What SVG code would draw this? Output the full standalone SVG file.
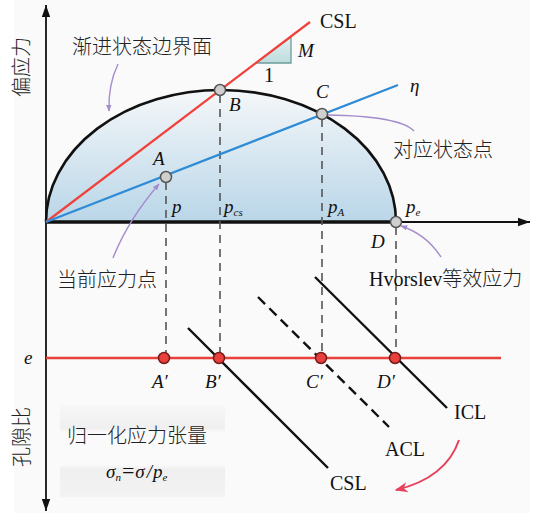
<svg xmlns="http://www.w3.org/2000/svg" width="545" height="516" viewBox="0 0 545 516">
<defs>
<linearGradient id="gEll" x1="0" y1="0" x2="0" y2="1">
<stop offset="0" stop-color="#f5f7f9"/>
<stop offset="1" stop-color="#b9d6e8"/>
</linearGradient>
<linearGradient id="gTri" x1="0" y1="0" x2="0" y2="1">
<stop offset="0" stop-color="#e6f2f2"/>
<stop offset="1" stop-color="#bcdcdc"/>
</linearGradient>
<linearGradient id="gBox" x1="0" y1="0" x2="0" y2="1">
<stop offset="0" stop-color="#f7f7f7"/>
<stop offset="0.25" stop-color="#efefef"/>
<stop offset="0.3" stop-color="#fafafa"/>
<stop offset="0.65" stop-color="#fafafa"/>
<stop offset="0.7" stop-color="#efefef"/>
<stop offset="1" stop-color="#f3f3f3"/>
</linearGradient>
<marker id="mAx" viewBox="0 0 10 10" refX="10" refY="5" markerWidth="12" markerHeight="12" markerUnits="userSpaceOnUse" orient="auto">
<path d="M0 1.5 L10 5 L0 8.5 Z" fill="#111"/>
</marker>
<marker id="mPur" viewBox="0 0 10 10" refX="9" refY="5" markerWidth="7" markerHeight="7" markerUnits="userSpaceOnUse" orient="auto">
<path d="M0 1 L10 5 L0 9 Z" fill="#a58ccc"/>
</marker>
<marker id="mRed" viewBox="0 0 10 10" refX="9" refY="5" markerWidth="13" markerHeight="13" markerUnits="userSpaceOnUse" orient="auto">
<path d="M0 1 L10 5 L0 9 L3 5 Z" fill="#e8405a"/>
</marker>
<style>
.cn{font-family:"Noto Sans CJK SC","Noto Sans",sans-serif;font-size:20px;fill:#222;font-weight:300}
.se{font-family:"Liberation Serif",serif;font-size:20px;fill:#111}
.it{font-family:"Liberation Serif",serif;font-style:italic;font-size:19px;fill:#111}
.sub{font-size:11px}
.dash{stroke:#555;stroke-width:1.6;stroke-dasharray:8 6;fill:none}
.pur{stroke:#a58ccc;stroke-width:1.4;fill:none}
.gp{fill:#cfcfcf;stroke:#555;stroke-width:1.5}
.rp{fill:#e8403c;stroke:#7a1a1a;stroke-width:1.5}
.blk{stroke:#111;stroke-width:2.4;fill:none}
</style>
</defs>
<rect x="0" y="0" width="545" height="516" fill="#ffffff"/>
<rect x="14" y="0" width="516" height="513" fill="#fafafa"/>

<g id="surface">
<path d="M46 222 A175 132 0 0 1 396 222 Z" fill="url(#gEll)"/>
<path d="M46 222 A175 132 0 0 1 396 222" fill="none" stroke="#111" stroke-width="2.6"/>
</g>

<g id="axes">
<line x1="46" y1="222" x2="46" y2="5" stroke="#111" stroke-width="1.8" marker-end="url(#mAx)"/>
<line x1="46" y1="222" x2="46" y2="511" stroke="#111" stroke-width="1.8" marker-end="url(#mAx)"/>
<line x1="46" y1="222" x2="530" y2="222" stroke="#111" stroke-width="1.8" marker-end="url(#mAx)"/>
<line x1="46" y1="222" x2="396" y2="222" stroke="#111" stroke-width="3.6"/>
</g>

<g id="connectors">
<line x1="166" y1="182" x2="166" y2="353" class="dash"/>
<line x1="220" y1="95" x2="220" y2="353" class="dash"/>
<line x1="322" y1="119" x2="322" y2="353" class="dash"/>
<line x1="396" y1="227" x2="396" y2="353" class="dash"/>
<line x1="46" y1="358" x2="501" y2="358" stroke="#e8403c" stroke-width="2.4"/>
<line x1="188" y1="328" x2="328" y2="468" class="blk"/>
<line x1="258" y1="297" x2="389" y2="427" stroke="#111" stroke-width="2.4" stroke-dasharray="10 6"/>
<line x1="315" y1="277" x2="447" y2="408" class="blk"/>
<path d="M459 440 Q446 478 396 490" fill="none" stroke="#e8405a" stroke-width="2" marker-end="url(#mRed)"/>
<path d="M118 64 Q108 85 109 111" class="pur" marker-end="url(#mPur)"/>
<path d="M113 258 Q128 220 159 184" class="pur" marker-end="url(#mPur)"/>
<path d="M327 115 Q400 116 414 131" class="pur"/>
<path d="M441 257 Q426 234 401 226" class="pur" marker-end="url(#mPur)"/>
</g>

<g id="CSL_top">
<polygon points="256,63 291,63 291,37" fill="url(#gTri)" stroke="#6e9c9c" stroke-width="1.3"/>
<line x1="46" y1="222" x2="310" y2="22" stroke="#f0413a" stroke-width="2.2"/>
<text x="320" y="28" class="se">CSL</text>
<text x="298" y="57" class="it">M</text>
<text x="264" y="82" class="se">1</text>
</g>

<g id="eta_line">
<line x1="46" y1="222" x2="398" y2="85" stroke="#2e8bd6" stroke-width="2.2"/>
<text x="410" y="92" class="it">η</text>
</g>

<g id="pointA"><circle cx="166" cy="177" r="5.5" class="gp"/><text x="153" y="165" class="it">A</text></g>
<g id="pointB"><circle cx="220" cy="90" r="5.5" class="gp"/><text x="229" y="111" class="it">B</text></g>
<g id="pointC"><circle cx="322" cy="114" r="5.5" class="gp"/><text x="316" y="98" class="it">C</text></g>
<g id="pointD"><circle cx="396" cy="222" r="5.5" class="gp"/><text x="371" y="248" class="it">D</text></g>

<g id="p_labels">
<text x="172" y="213" class="it">p</text>
<text x="224" y="213" class="it">p<tspan class="sub" dy="3">cs</tspan></text>
<text x="328" y="213" class="it">p<tspan class="sub" dy="3">A</tspan></text>
<text x="406" y="213" class="it">p<tspan class="sub" dy="3">e</tspan></text>
</g>

<g id="pointA2"><circle cx="164" cy="358" r="5.5" class="rp"/><text x="152" y="388" class="it">A′</text></g>
<g id="pointB2"><circle cx="219" cy="358" r="5.5" class="rp"/><text x="205" y="388" class="it">B′</text></g>
<g id="pointC2"><circle cx="321" cy="358" r="5.5" class="rp"/><text x="306" y="388" class="it">C′</text></g>
<g id="pointD2"><circle cx="395" cy="358" r="5.5" class="rp"/><text x="377" y="388" class="it">D′</text></g>

<g id="labels">
<text x="72" y="54" class="cn">渐进状态边界面</text>
<text x="393" y="157" class="cn">对应状态点</text>
<text x="57" y="287" class="cn">当前应力点</text>
<text x="369" y="286"><tspan class="se">Hvorslev</tspan><tspan class="cn">等效应力</tspan></text>
<text x="24" y="364" class="it">e</text>
<text x="454" y="419" class="se">ICL</text>
<text x="385" y="456" class="se">ACL</text>
<text x="330" y="490" class="se">CSL</text>
<text transform="translate(29,67) rotate(-90)" text-anchor="middle" class="cn" font-size="21">偏应力</text>
<text transform="translate(29,437) rotate(-90)" text-anchor="middle" class="cn" font-size="21">孔隙比</text>
</g>

<g id="normbox">
<rect x="60" y="405" width="165" height="92" fill="url(#gBox)"/>
<text x="67" y="443" class="cn">归一化应力张量</text>
<text x="106" y="478" class="it" font-size="19">σ<tspan class="sub" dy="3">n</tspan><tspan dy="-3" dx="1" font-style="normal" font-size="22">=</tspan><tspan dx="1">σ</tspan><tspan dx="2">/</tspan><tspan dx="1">p</tspan><tspan class="sub" dy="3">e</tspan></text>
</g>
</svg>
